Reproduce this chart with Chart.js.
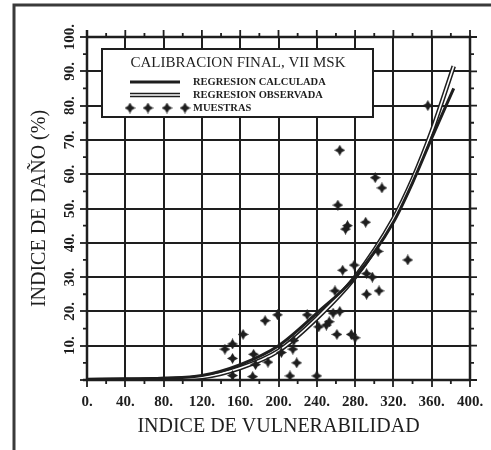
<!DOCTYPE html>
<html>
<head>
<meta charset="utf-8">
<script src="https://cdn.jsdelivr.net/npm/chart.js@4.4.1/dist/chart.umd.min.js"></script>
<style>
  html, body { margin: 0; padding: 0; background: #fff; }
  #wrap { width: 491px; height: 450px; }
</style>
</head>
<body>
<div id="wrap"><canvas id="myChart" width="491" height="450"></canvas></div>
<script>
// values //
var curveX = [0, 40, 80, 120, 160, 200, 240, 280, 320, 340, 360, 383];
var calculada = [0.1, 0.2, 0.5, 1.3, 4.5, 10, 19.5, 30, 46, 57.5, 70.5, 85];
var observada = [0, 0.1, 0.3, 0.8, 3.5, 8.5, 18, 30, 47, 58.5, 72.5, 91.5];

var muestrasX = [264, 301, 308, 262, 272, 270, 291, 356, 304, 267, 279, 292, 298, 292, 305,
  259, 264, 257, 253, 250, 230, 242, 261, 276, 280, 186, 199, 163, 144, 152,
  152, 174, 176, 189, 203, 216, 215, 219, 152, 173, 212, 240, 335];
var muestrasY = [67, 59, 56, 51, 45, 44, 46, 80, 37.5, 32, 33.5, 31, 30, 25, 26,
  26, 20, 19.5, 17, 16, 19, 15.5, 13.3, 13.3, 12.3, 17.3, 19, 13.3, 9, 10.5,
  6.3, 7.5, 4.5, 5.2, 8, 11.5, 9, 5, 1.3, 1, 1.2, 1.2, 35];

var xTickLabels = ['0.', '40.', '80.', '120.', '160.', '200.', '240.', '280.', '320.', '360.', '400.'];
var yTickLabels = ['', '10.', '20.', '30.', '40.', '50.', '60.', '70.', '80.', '90.', '100.'];

var xTitle = 'INDICE DE VULNERABILIDAD';
var yTitle = 'INDICE DE DAÑO (%)';
var legendTitle = 'CALIBRACION FINAL, VII MSK';
var legendLabels = ['REGRESION CALCULADA', 'REGRESION OBSERVADA', 'MUESTRAS'];

var ink = '#1e1e1e';
var serif = '"Liberation Serif", "DejaVu Serif", serif';

// four pointed star used as marker
function makeStar(size) {
  var c = document.createElement('canvas');
  c.width = size; c.height = size;
  var g = c.getContext('2d');
  var m = size / 2, k = size * 0.18;
  g.fillStyle = ink;
  g.beginPath();
  g.moveTo(m, 0);
  g.lineTo(m + k, m - k);
  g.lineTo(size, m);
  g.lineTo(m + k, m + k);
  g.lineTo(m, size);
  g.lineTo(m - k, m + k);
  g.lineTo(0, m);
  g.lineTo(m - k, m - k);
  g.closePath();
  g.fill();
  return c;
}
var star = makeStar(11);

function pts(xs, ys) {
  return xs.map(function (x, i) { return { x: x, y: ys[i] }; });
}

// frame, top/right ticks and minor ticks
var framePlugin = {
  id: 'frame',
  afterDraw: function (chart) {
    var ctx = chart.ctx, ca = chart.chartArea;
    var xs = chart.scales.x, ys = chart.scales.y;
    ctx.save();
    ctx.strokeStyle = '#3a3a3a';
    ctx.lineWidth = 3;
    ctx.beginPath();
    ctx.moveTo(14, 450); ctx.lineTo(14, 5); ctx.lineTo(491, 5);
    ctx.stroke();

    ctx.strokeStyle = ink;
    ctx.lineWidth = 2.5;
    ctx.beginPath();
    ctx.moveTo(ca.left, ca.top - 7); ctx.lineTo(ca.left, ca.bottom);
    ctx.moveTo(ca.left - 4, ca.bottom); ctx.lineTo(ca.right, ca.bottom);
    ctx.moveTo(ca.left, ca.top); ctx.lineTo(ca.right, ca.top); ctx.lineTo(ca.right, ca.bottom);
    ctx.stroke();

    ctx.lineWidth = 1.8;
    ctx.beginPath();
    for (var v = 0; v <= 400; v += 20) {
      var px = xs.getPixelForValue(v);
      var major = v % 40 === 0;
      ctx.moveTo(px, ca.top); ctx.lineTo(px, ca.top - (major ? 7 : 4));
      if (!major) { ctx.moveTo(px, ca.bottom); ctx.lineTo(px, ca.bottom + 4); }
    }
    for (var w = 0; w <= 100; w += 5) {
      var py = ys.getPixelForValue(w);
      var maj = w % 10 === 0;
      ctx.moveTo(ca.right, py); ctx.lineTo(ca.right + (maj ? 7 : 4), py);
      if (!maj) { ctx.moveTo(ca.left, py); ctx.lineTo(ca.left - 4, py); }
    }
    ctx.stroke();
    ctx.restore();
  }
};

// legend box inside the plot
var boxPlugin = {
  id: 'box',
  afterDatasetsDraw: function (chart) {
    var ctx = chart.ctx;
    ctx.save();
    ctx.fillStyle = '#fff';
    ctx.fillRect(102, 49, 271, 68);
    ctx.strokeStyle = ink;
    ctx.lineWidth = 2;
    ctx.strokeRect(102, 49, 271, 68);

    ctx.fillStyle = ink;
    ctx.textBaseline = 'middle';
    ctx.textAlign = 'center';
    ctx.font = '15px ' + serif;
    ctx.fillText(legendTitle, 238, 63);

    ctx.textAlign = 'left';
    ctx.font = 'bold 10.5px ' + serif;
    ctx.fillText(legendLabels[0], 193, 82);
    ctx.fillText(legendLabels[1], 193, 95);
    ctx.fillText(legendLabels[2], 193, 108);

    ctx.beginPath();
    ctx.lineWidth = 3;
    ctx.moveTo(130, 82); ctx.lineTo(180, 82);
    ctx.stroke();
    ctx.beginPath();
    ctx.lineWidth = 4.4;
    ctx.moveTo(130, 95); ctx.lineTo(180, 95);
    ctx.stroke();
    ctx.beginPath();
    ctx.strokeStyle = '#fff';
    ctx.lineWidth = 1.6;
    ctx.moveTo(129, 95); ctx.lineTo(181, 95);
    ctx.stroke();
    [130, 148, 167, 185].forEach(function (x) {
      ctx.drawImage(star, x - 5.5, 108 - 5.5);
    });
    ctx.restore();
  }
};

var ctx = document.getElementById('myChart').getContext('2d');
var myChart = new Chart(ctx, {
  type: 'scatter',
  data: {
    datasets: [{
      label: legendLabels[2],
      data: pts(muestrasX, muestrasY),
      pointStyle: star,
      pointRadius: 5.5,
      showLine: false
    }, {
      label: legendLabels[0],
      data: pts(curveX, calculada),
      showLine: true,
      borderColor: ink,
      borderWidth: 3,
      pointRadius: 0,
      cubicInterpolationMode: 'monotone'
    }, {
      label: legendLabels[1],
      data: pts(curveX, observada),
      showLine: true,
      borderColor: '#fff',
      borderWidth: 1.6,
      pointRadius: 0,
      cubicInterpolationMode: 'monotone'
    }, {
      label: legendLabels[1],
      data: pts(curveX, observada),
      showLine: true,
      borderColor: ink,
      borderWidth: 4.6,
      pointRadius: 0,
      cubicInterpolationMode: 'monotone'
    }]
  },
  options: {
    responsive: false,
    animation: false,
    devicePixelRatio: 1,
    layout: { padding: { top: 37, right: 21, left: 0, bottom: 0 } },
    plugins: { legend: { display: false }, tooltip: { enabled: false } },
    scales: {
      x: {
        type: 'linear',
        min: 0, max: 400,
        afterFit: function (s) { s.height = 70; },
        border: { display: false },
        grid: { color: ink, lineWidth: 2, tickLength: 7, tickColor: ink, tickWidth: 1.8 },
        ticks: {
          stepSize: 40,
          padding: 6,
          color: ink,
          font: { family: serif, size: 15, weight: 'bold' },
          maxRotation: 0,
          callback: function (v, i) { return xTickLabels[i]; }
        },
        title: {
          display: true, text: xTitle, color: ink,
          font: { family: serif, size: 20 },
          padding: { top: 0, bottom: 11 }
        }
      },
      y: {
        type: 'linear',
        min: 0, max: 100,
        afterFit: function (s) { s.width = 87; },
        border: { display: false },
        grid: { color: ink, lineWidth: 2, tickLength: 7, tickColor: ink, tickWidth: 1.8 },
        ticks: {
          stepSize: 10,
          padding: -3,
          crossAlign: 'center',
          minRotation: 90, maxRotation: 90,
          color: ink,
          font: { family: serif, size: 15, weight: 'bold' },
          callback: function (v, i) { return yTickLabels[i]; }
        },
        title: {
          display: true, text: yTitle, color: ink,
          font: { family: serif, size: 20 },
          padding: { top: 28, bottom: 0 }
        }
      }
    }
  },
  plugins: [framePlugin, boxPlugin]
});
</script>
</body>
</html>
